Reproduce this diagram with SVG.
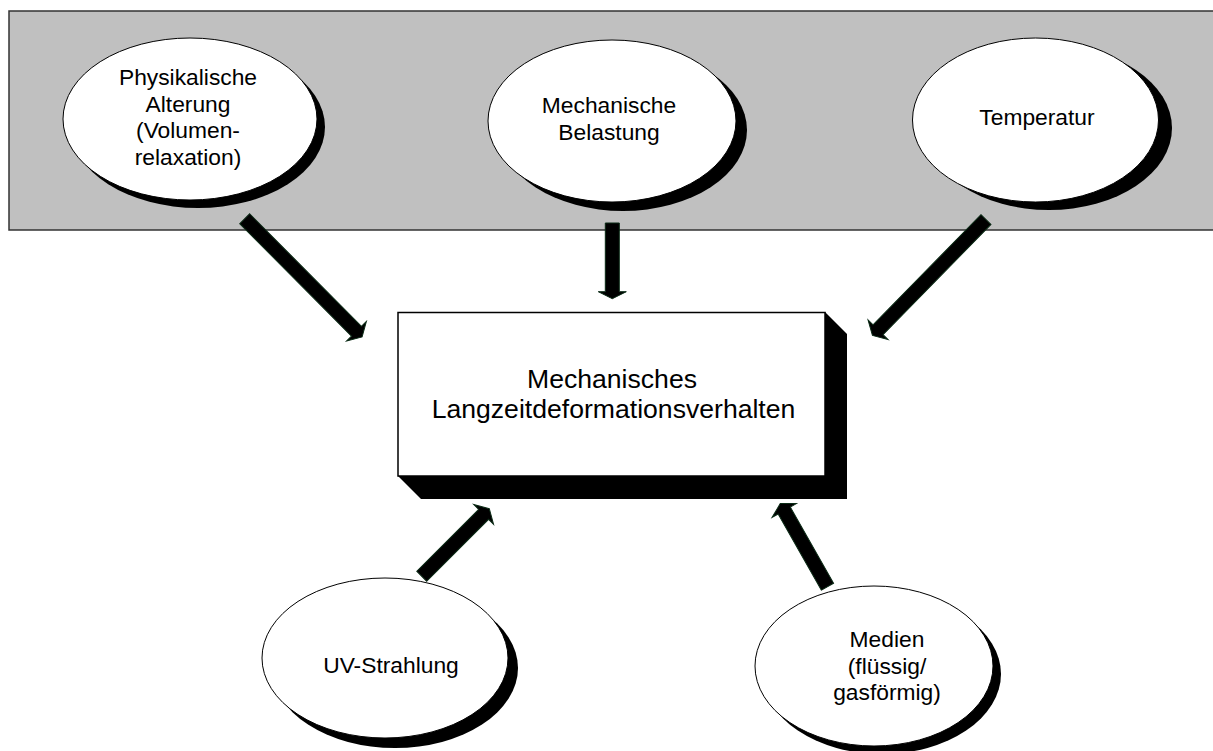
<svg xmlns="http://www.w3.org/2000/svg" width="1213" height="751" viewBox="0 0 1213 751">
<style>
.bg{fill:#c0c0c0;stroke:#333;stroke-width:1.5}
.sh{fill:#000}
.el{fill:#fff;stroke:#000;stroke-width:1}
.box{fill:#fff;stroke:#000;stroke-width:1.5}
.t{font-family:"Liberation Sans",Arial,sans-serif;font-size:22.8px;text-anchor:middle;fill:#000}
.tb{font-family:"Liberation Sans",Arial,sans-serif;font-size:26.6px;text-anchor:middle;fill:#000}
.arr{fill:#000;stroke:#0b2b16;stroke-width:1}
</style>
<rect width="1213" height="751" fill="#fff"/>
<rect class="bg" x="9" y="11" width="1220" height="219"/>
<g id="physikalische">
<ellipse class="sh" cx="198" cy="127" rx="127" ry="81"/>
<ellipse class="el" cx="190" cy="119" rx="127" ry="81"/>
<text class="t" x="188" y="85">Physikalische</text>
<text class="t" x="188" y="111.7">Alterung</text>
<text class="t" x="188" y="138.4">(Volumen-</text>
<text class="t" x="188" y="165">relaxation)</text>
</g>
<g id="mechanische">
<ellipse class="sh" cx="623" cy="130" rx="124" ry="81"/>
<ellipse class="el" cx="612" cy="121" rx="124" ry="81"/>
<text class="t" x="609" y="113">Mechanische</text>
<text class="t" x="609" y="140">Belastung</text>
</g>
<g id="temperatur">
<ellipse class="sh" cx="1049" cy="128" rx="123" ry="82"/>
<ellipse class="el" cx="1035.5" cy="120" rx="123" ry="82"/>
<text class="t" x="1037" y="125">Temperatur</text>
</g>
<g id="verhalten">
<polygon class="sh" points="398,476 421,499 847,499 847,334 825,312"/>
<rect class="box" x="398" y="312.5" width="427" height="163.5"/>
<text class="tb" x="612" y="388">Mechanisches</text>
<text class="tb" x="613.5" y="418">Langzeitdeformationsverhalten</text>
</g>
<g id="uv">
<ellipse class="sh" cx="395" cy="668" rx="123" ry="80"/>
<ellipse class="el" cx="385" cy="658" rx="123" ry="80"/>
<text class="t" x="391" y="673">UV-Strahlung</text>
</g>
<g id="medien">
<ellipse class="sh" cx="882" cy="674" rx="119" ry="80"/>
<ellipse class="el" cx="874" cy="666" rx="119" ry="80"/>
<text class="t" x="887" y="647">Medien</text>
<text class="t" x="887" y="674">(flüssig/</text>
<text class="t" x="887" y="700">gasförmig)</text>
</g>
<g id="connectors">
<polygon class="arr" transform="translate(244.7,218.7) rotate(45.2)" points="0,-7 158.6,-7 158.6,-14 166.6,0 158.6,14 158.6,7 0,7"/>
<polygon class="arr" transform="translate(612.3,223) rotate(90)" points="0,-7 68.7,-7 68.7,-14 75.7,0 68.7,14 68.7,7 0,7"/>
<polygon class="arr" transform="translate(986,219.5) rotate(134.4)" points="0,-7 154.3,-7 154.3,-14 162.3,0 154.3,14 154.3,7 0,7"/>
<polygon class="arr" transform="translate(421.7,576.3) rotate(-45)" points="0,-7 87.6,-7 87.6,-14 95.6,0 87.6,14 87.6,7 0,7"/>
<polygon class="arr" transform="translate(827.5,586.7) rotate(-119.6)" points="0,-7 87.6,-7 87.6,-14 95.6,0 87.6,14 87.6,7 0,7"/>
</g>
</svg>
